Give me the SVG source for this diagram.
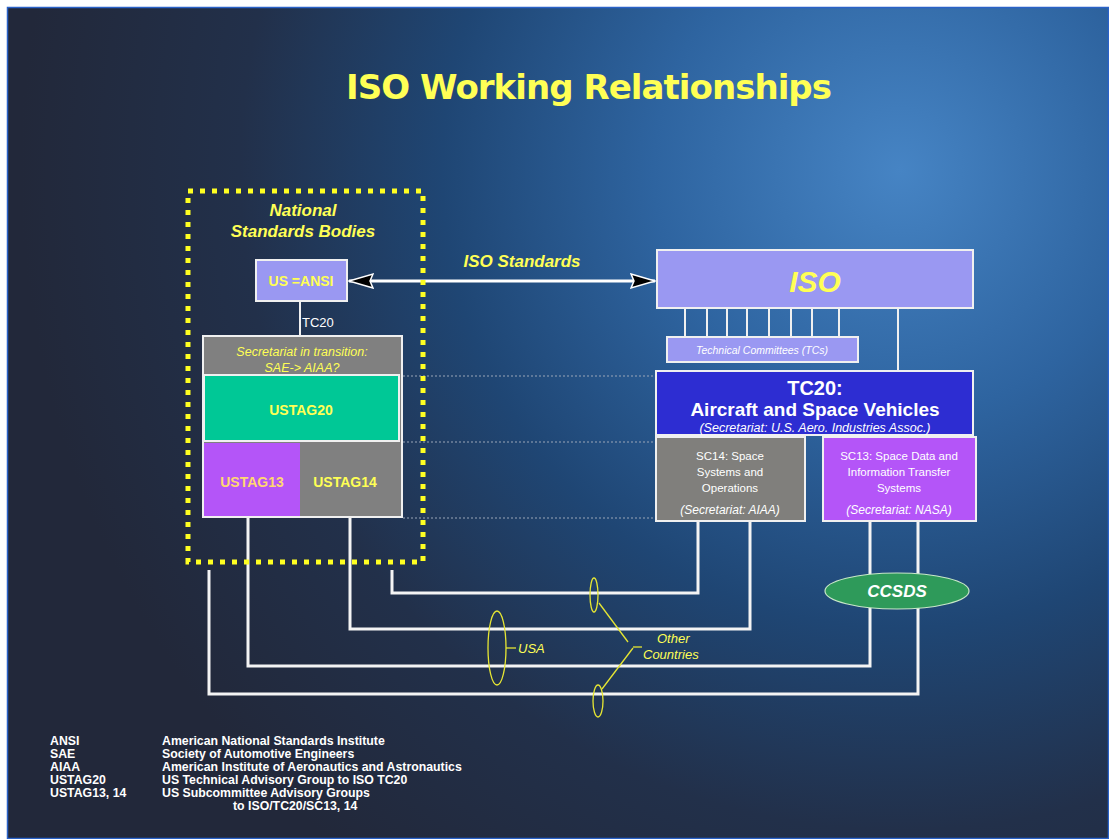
<svg xmlns="http://www.w3.org/2000/svg" width="1109" height="839" viewBox="0 0 1109 839">
<defs>
<radialGradient id="bg" gradientUnits="userSpaceOnUse" cx="900" cy="170" r="880">
<stop offset="0" stop-color="#4684c4"/>
<stop offset="0.28" stop-color="#2e64a0"/>
<stop offset="0.52" stop-color="#1f4674"/>
<stop offset="0.75" stop-color="#22304a"/>
<stop offset="1" stop-color="#22283a"/>
</radialGradient>
<marker id="ah" viewBox="0 0 26 18" refX="25" refY="9" markerWidth="26" markerHeight="18" markerUnits="userSpaceOnUse" orient="auto-start-reverse">
<path d="M1,2 L25,9 L1,16 L4,9 Z" fill="#000" stroke="#fff" stroke-width="1.5"/>
</marker>
<style>
.y{fill:#ffff55;font-family:"Liberation Sans",Arial,sans-serif}
.w{fill:#fff;font-family:"Liberation Sans",Arial,sans-serif}
.b{font-weight:bold}
.i{font-style:italic}
.box{stroke:#f0f0f0;stroke-width:2}
.ln{stroke:#f4f4f4;stroke-width:3;fill:none}
.tk{stroke:#f0f0f0;stroke-width:2;fill:none}
.dot{stroke:#9aa6b8;stroke-width:1;stroke-dasharray:2 2;fill:none}
.ye{stroke:#e6e633;stroke-width:1.3;fill:none}
.lg{fill:#fff;font-family:"Liberation Sans",Arial,sans-serif;font-size:12.3px;font-weight:bold}
</style>
</defs>
<rect x="0" y="0" width="1109" height="839" fill="#fff"/>
<rect x="7" y="7" width="1102" height="832" fill="url(#bg)"/>
<rect x="7.5" y="7.5" width="1101" height="831" fill="none" stroke="#2a62c8" stroke-width="1.5"/>

<text class="y b" x="589" y="99" font-size="34" text-anchor="middle" style="font-family:'DejaVu Sans',sans-serif" textLength="486">ISO Working Relationships</text>

<g id="connectors">
<line class="dot" x1="403" y1="376" x2="656" y2="376"/>
<line class="dot" x1="403" y1="442" x2="656" y2="442"/>
<line class="dot" x1="403" y1="518" x2="656" y2="518"/>
<line x1="349" y1="281" x2="655" y2="281" stroke="#fff" stroke-width="3" marker-start="url(#ah)" marker-end="url(#ah)"/>
<line class="tk" x1="300" y1="302" x2="300" y2="335"/>
<g>
<line class="tk" x1="685" y1="309" x2="685" y2="336"/>
<line class="tk" x1="707" y1="309" x2="707" y2="336"/>
<line class="tk" x1="727" y1="309" x2="727" y2="336"/>
<line class="tk" x1="747" y1="309" x2="747" y2="336"/>
<line class="tk" x1="769" y1="309" x2="769" y2="336"/>
<line class="tk" x1="791" y1="309" x2="791" y2="336"/>
<line class="tk" x1="812" y1="309" x2="812" y2="336"/>
<line class="tk" x1="839" y1="309" x2="839" y2="336"/>
<line class="tk" x1="898" y1="309" x2="898" y2="370"/>
</g>
<polyline class="ln" points="392,570 392,593 698,593 698,521"/>
<polyline class="ln" points="350,518 350,629 750,629 750,521"/>
<polyline class="ln" points="248,518 248,666 870,666 870,521"/>
<polyline class="ln" points="209,570 209,694 918,694 918,521"/>
</g>

<g id="dotted-box">
<rect x="188" y="191" width="235" height="371" fill="none" stroke="#ffff22" stroke-width="5" stroke-dasharray="5 7"/>
<text class="y b i" x="303" y="216" font-size="17" text-anchor="middle">National</text>
<text class="y b i" x="303" y="237" font-size="17" text-anchor="middle">Standards Bodies</text>
</g>

<g id="ansi">
<rect class="box" x="256" y="260" width="91" height="41" fill="#9a98f2"/>
<text class="y b" x="301" y="286" font-size="14" text-anchor="middle">US =ANSI</text>
</g>
<text class="w" x="302" y="327" font-size="13">TC20</text>

<g id="us-group">
<rect class="box" x="203" y="336" width="199" height="181" fill="#808080"/>
<text class="y i" x="302" y="356" font-size="12.5" text-anchor="middle">Secretariat in transition:</text>
<text class="y i" x="302" y="372" font-size="12.5" text-anchor="middle">SAE-&gt; AIAA?</text>
</g>
<g id="ustag20">
<rect class="box" x="204" y="375" width="195" height="66" fill="#00c896"/>
<text class="y b" x="301" y="415" font-size="14" text-anchor="middle">USTAG20</text>
</g>
<g id="ustag13">
<rect x="204" y="443" width="96" height="73" fill="#b455f8"/>
<text class="b" x="252" y="487" font-size="14" text-anchor="middle" fill="#ffd870" font-family="Liberation Sans, Arial, sans-serif">USTAG13</text>
</g>
<g id="ustag14">
<text class="y b" x="345" y="487" font-size="14" text-anchor="middle">USTAG14</text>
</g>

<text class="y b i" x="522" y="267" font-size="17" text-anchor="middle">ISO Standards</text>

<g id="iso">
<rect class="box" x="657" y="250" width="316" height="58" fill="#9a98f2"/>
<text class="y b i" x="815" y="292" font-size="30" text-anchor="middle">ISO</text>
</g>

<g id="tcs">
<rect class="box" x="667" y="337" width="191" height="25" fill="#9a98f2"/>
<text class="w i" x="762" y="354" font-size="10.5" text-anchor="middle">Technical Committees (TCs)</text>
</g>

<g id="tc20">
<rect class="box" x="656" y="371" width="317" height="64" fill="#2d2dd2"/>
<text class="w b" x="815" y="395" font-size="20" text-anchor="middle">TC20:</text>
<text class="w b" x="815" y="416" font-size="19" text-anchor="middle">Aircraft and Space Vehicles</text>
<text class="w i" x="815" y="432" font-size="12.5" text-anchor="middle">(Secretariat: U.S. Aero. Industries Assoc.)</text>
</g>

<g id="sc14">
<rect class="box" x="656" y="437" width="149" height="84" fill="#807f7c"/>
<text class="w" x="730" y="460" font-size="11.5" text-anchor="middle">SC14:  Space</text>
<text class="w" x="730" y="476" font-size="11.5" text-anchor="middle">Systems and</text>
<text class="w" x="730" y="492" font-size="11.5" text-anchor="middle">Operations</text>
<text class="w i" x="730" y="514" font-size="12" text-anchor="middle">(Secretariat: AIAA)</text>
</g>

<g id="sc13">
<rect class="box" x="823" y="437" width="153" height="84" fill="#b455f8"/>
<text class="w" x="899" y="460" font-size="11.5" text-anchor="middle">SC13:  Space Data and</text>
<text class="w" x="899" y="476" font-size="11.5" text-anchor="middle">Information Transfer</text>
<text class="w" x="899" y="492" font-size="11.5" text-anchor="middle">Systems</text>
<text class="w i" x="899" y="514" font-size="12" text-anchor="middle">(Secretariat: NASA)</text>
</g>

<g id="ccsds">
<ellipse cx="897" cy="591" rx="72" ry="18" fill="#2e9a5a" stroke="#c8e8c8" stroke-width="1.2"/>
<text class="w i b" x="897" y="597" font-size="17" text-anchor="middle">CCSDS</text>
</g>

<g id="usa-note">
<ellipse class="ye" cx="497" cy="648" rx="9" ry="37"/>
<line class="ye" x1="506" y1="648" x2="516" y2="648"/>
<text class="y i" x="518" y="653" font-size="13">USA</text>
</g>

<g id="other-note">
<ellipse class="ye" cx="594" cy="595" rx="4" ry="17"/>
<ellipse class="ye" cx="598" cy="701" rx="5" ry="16"/>
<polyline class="ye" points="599,603 628,642"/>
<polyline class="ye" points="633,647 642,647"/>
<polyline class="ye" points="633,648 602,689"/>
<text class="y i" x="657" y="643" font-size="13">Other</text>
<text class="y i" x="643" y="659" font-size="13">Countries</text>
</g>

<g id="legend">
<text class="lg" x="50" y="745">ANSI</text>
<text class="lg" x="50" y="758">SAE</text>
<text class="lg" x="50" y="771">AIAA</text>
<text class="lg" x="50" y="784">USTAG20</text>
<text class="lg" x="50" y="797">USTAG13, 14</text>
<text class="lg" x="162" y="745">American National Standards Institute</text>
<text class="lg" x="162" y="758">Society of Automotive Engineers</text>
<text class="lg" x="162" y="771">American Institute of Aeronautics and Astronautics</text>
<text class="lg" x="162" y="784">US Technical Advisory Group to ISO TC20</text>
<text class="lg" x="162" y="797">US Subcommittee Advisory Groups</text>
<text class="lg" x="233" y="810">to ISO/TC20/SC13, 14</text>
</g>
</svg>
